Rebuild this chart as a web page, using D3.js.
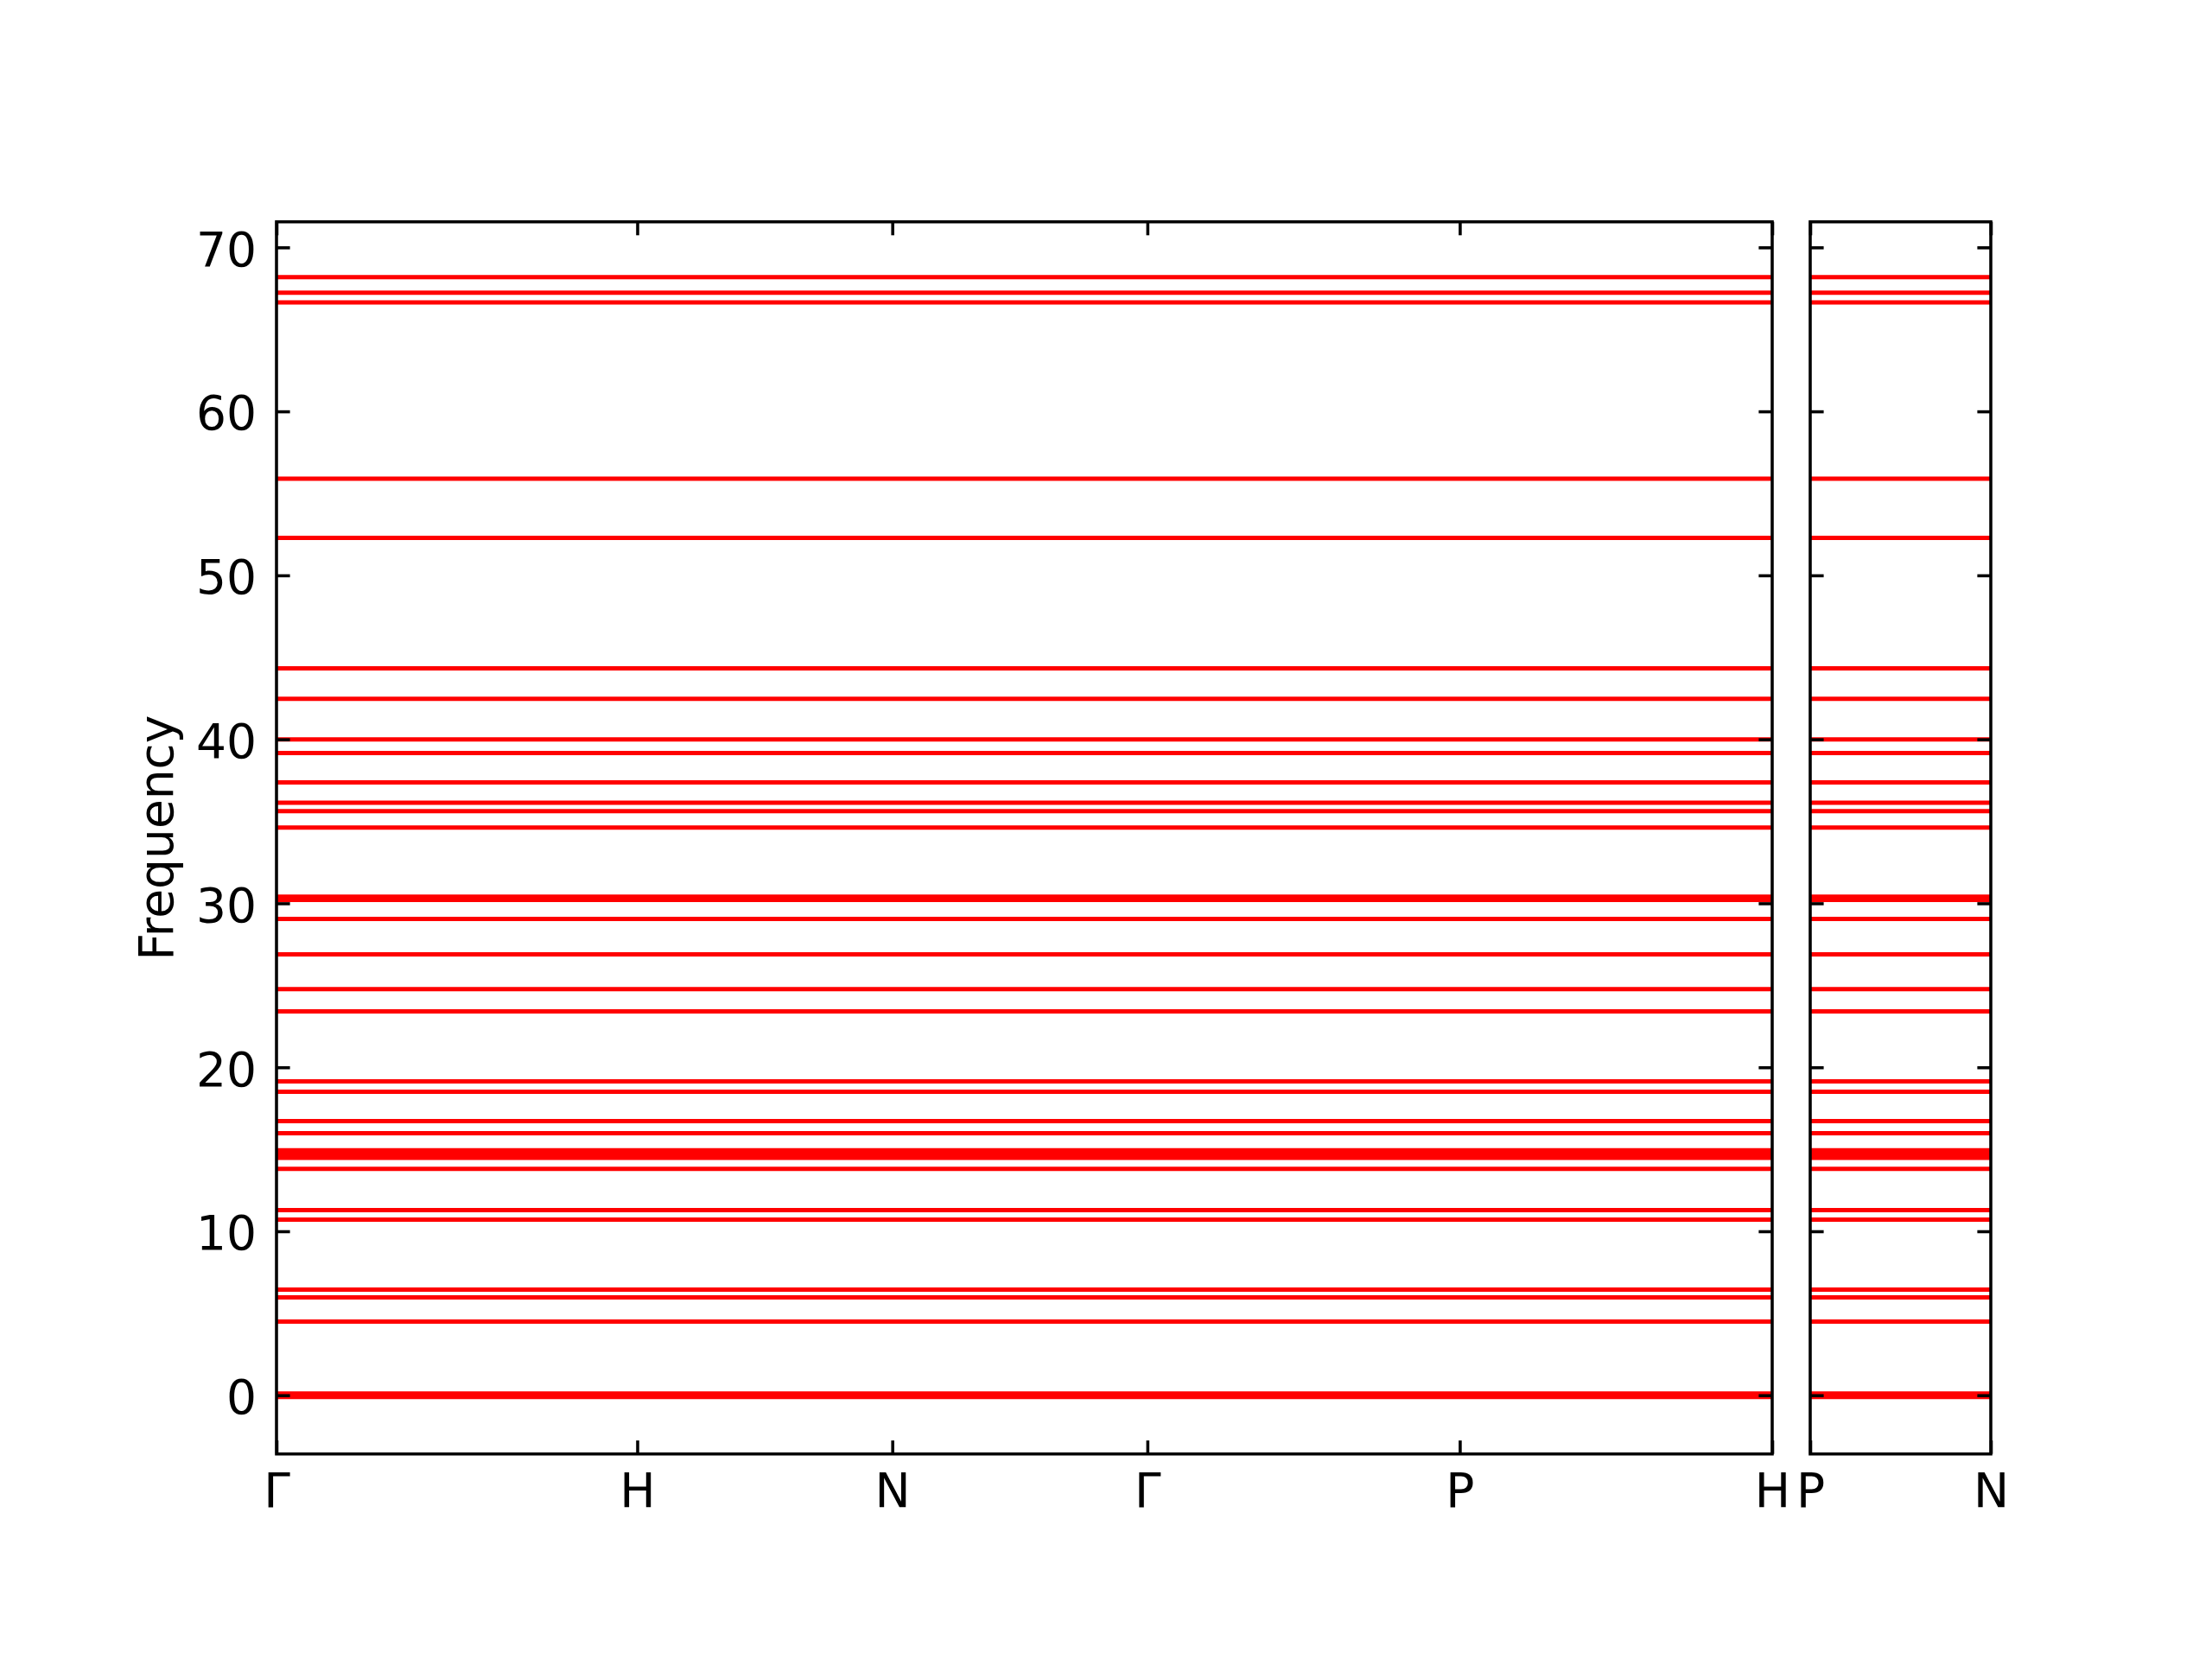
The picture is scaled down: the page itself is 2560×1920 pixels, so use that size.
<!DOCTYPE html>
<html>
<head>
<meta charset="utf-8">
<script src="https://cdn.jsdelivr.net/npm/d3@7"></script>
<style>
  html, body { margin: 0; padding: 0; background: #ffffff; }
  svg { display: block; }
  text { font-family: "DejaVu Sans", sans-serif; }
</style>
</head>
<body>
<script>
// ---- data ----
const kLabels1 = ["Γ", "H", "N", "Γ", "P", "H"];
const kDist1   = [0, 1.0, 1.7071, 2.4142, 3.2802, 4.1463];
const kLabels2 = ["P", "N"];
const kDist2   = [4.1463, 4.6463];
const bandFreqs = [
  68.19, 67.23, 66.65, 55.90, 52.28, 44.33, 42.47, 39.99, 39.16, 37.37,
  36.14, 35.62, 34.62, 30.40, 30.21, 29.05, 26.89, 24.76, 23.41, 19.14,
  18.51, 16.72, 15.98, 14.94, 14.71, 14.48, 13.80, 11.29, 10.71, 6.44,
  5.97, 4.49, 0.10, 0.00, -0.10
];
const yTicks = [0, 10, 20, 30, 40, 50, 60, 70];
const yLabel = "Frequency";

// ---- layout ----
const W = 2560, H = 1920;
const plotTop = 256.7, plotBottom = 1682.7;
const panels = [
  { x0: 320, x1: 2051, dist: kDist1, labels: kLabels1, showY: true },
  { x0: 2095, x1: 2304, dist: kDist2, labels: kLabels2, showY: false }
];
const fontPx = 55, spineW = 3.56, tickLen = 15.6, lineW = 5;

const svg = d3.select("body").append("svg")
  .attr("width", W).attr("height", H)
  .attr("viewBox", `0 0 ${W} ${H}`);
svg.append("rect").attr("width", W).attr("height", H).attr("fill", "#fff");

const y = d3.scaleLinear().domain([-3.58, 71.56]).range([plotBottom, plotTop]);

panels.forEach((p, i) => {
  const x = d3.scaleLinear().domain([p.dist[0], p.dist[p.dist.length - 1]]).range([p.x0, p.x1]);
  const g = svg.append("g");
  const clipId = "clip" + i;
  svg.append("clipPath").attr("id", clipId)
    .append("rect").attr("x", p.x0).attr("y", plotTop).attr("width", p.x1 - p.x0).attr("height", plotBottom - plotTop);

  const line = d3.line().x(d => x(d.k)).y(d => y(d.f));
  g.append("g").attr("clip-path", `url(#${clipId})`)
    .selectAll("path").data(bandFreqs).join("path")
    .attr("d", f => line(p.dist.map(k => ({ k, f }))))
    .attr("fill", "none").attr("stroke", "#ff0000").attr("stroke-width", lineW);

  // axes with inward ticks
  const left = g.append("g").attr("transform", `translate(${p.x0},0)`)
    .call(d3.axisLeft(y).tickValues(yTicks).tickSize(-tickLen).tickPadding(23)
      .tickFormat(p.showY ? d3.format("d") : () => ""));
  const right = g.append("g").attr("transform", `translate(${p.x1},0)`)
    .call(d3.axisRight(y).tickValues(yTicks).tickSize(-tickLen).tickFormat(() => ""));
  const bot = g.append("g").attr("transform", `translate(0,${plotBottom})`)
    .call(d3.axisBottom(x).tickValues(p.dist).tickSize(-tickLen)
      .tickFormat((d, j) => p.labels[j]));
  const topAx = g.append("g").attr("transform", `translate(0,${plotTop})`)
    .call(d3.axisTop(x).tickValues(p.dist).tickSize(-tickLen).tickFormat(() => ""));

  [left, right, bot, topAx].forEach(a => {
    a.select(".domain").remove();
    a.selectAll(".tick line").attr("stroke", "#000").attr("stroke-width", spineW);
    a.selectAll("text").attr("fill", "#000")
      .style("font-family", '"DejaVu Sans", sans-serif').style("font-size", fontPx + "px");
  });
  left.selectAll(".tick text").attr("dy", "0.38em");
  bot.selectAll(".tick text").attr("dy", 0).attr("y", 61.3);

  g.append("rect").attr("x", p.x0).attr("y", plotTop)
    .attr("width", p.x1 - p.x0).attr("height", plotBottom - plotTop)
    .attr("fill", "none").attr("stroke", "#000").attr("stroke-width", spineW);
});

svg.append("text")
  .attr("transform", `translate(200,${(plotTop + plotBottom) / 2}) rotate(-90)`)
  .attr("text-anchor", "middle")
  .style("font-size", fontPx + "px")
  .attr("fill", "#000")
  .text(yLabel);
</script>
</body>
</html>
